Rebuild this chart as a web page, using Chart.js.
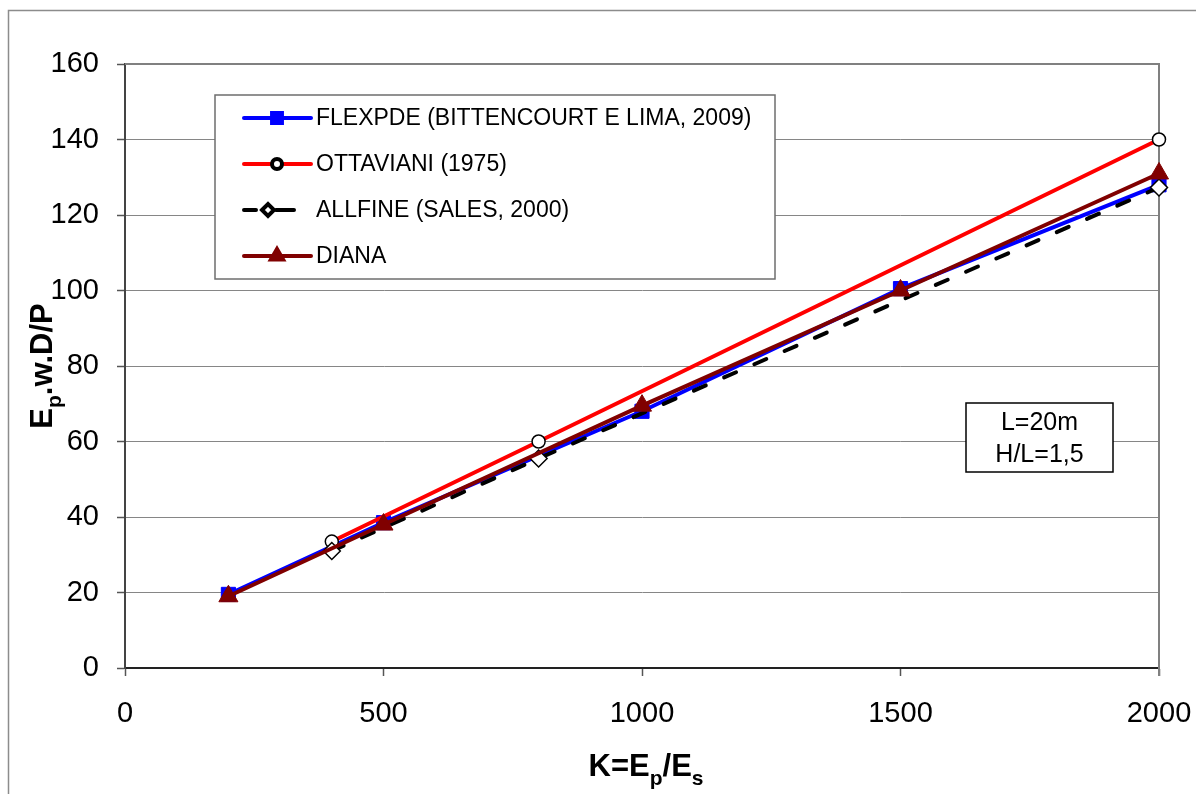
<!DOCTYPE html>
<html>
<head>
<meta charset="utf-8">
<script src="https://cdn.jsdelivr.net/npm/chart.js@4.4.0/dist/chart.umd.min.js"></script>
<style>
  html, body { margin: 0; padding: 0; background: #fff; }
  #wrap { width: 1196px; height: 794px; }
</style>
</head>
<body>
<div id="wrap"><canvas id="grafico" width="1196" height="794"></canvas></div>
<script>
// hodnoty: K = Ep/Es a Ep.w.D/P
const flexpdeK = [200, 500, 1000, 1500, 2000];
const flexpdeW = [19.5, 38.5, 68, 100.5, 128];
const ottavianiK = [400, 800, 2000];
const ottavianiW = [33.5, 60, 140];
const allfineK = [400, 800, 2000];
const allfineW = [31, 55.5, 127.3];
const dianaK = [200, 500, 1000, 1500, 2000];
const dianaW = [19, 38, 69.5, 100, 131];

const seriesNames = ['FLEXPDE (BITTENCOURT E LIMA, 2009)', 'OTTAVIANI (1975)', 'ALLFINE (SALES, 2000)', 'DIANA'];
const xTicks = [0, 500, 1000, 1500, 2000];
const yTicks = [0, 20, 40, 60, 80, 100, 120, 140, 160];
const noteLines = ['L=20m', 'H/L=1,5'];

const FONT = "'Liberation Sans', Arial, sans-serif";

function toPoints(xs, ys) {
    return xs.map((x, i) => ({ x: x, y: ys[i] }));
}

// text s dolnim indexem, casti: [text, jeIndex]
function drawSubText(ctx, parts, cx, cy, size) {
    const small = Math.round(size * 0.68);
    let total = 0;
    parts.forEach(p => {
        ctx.font = 'bold ' + (p[1] ? small : size) + 'px ' + FONT;
        total += ctx.measureText(p[0]).width;
    });
    let x = cx - total / 2;
    ctx.textAlign = 'left';
    ctx.textBaseline = 'alphabetic';
    parts.forEach(p => {
        ctx.font = 'bold ' + (p[1] ? small : size) + 'px ' + FONT;
        ctx.fillText(p[0], x, cy + (p[1] ? size * 0.28 : 0));
        x += ctx.measureText(p[0]).width;
    });
}

const extrasPlugin = {
    id: 'extras',
    beforeDatasetsDraw(chart) {
        const ctx = chart.ctx;
        const a = chart.chartArea;
        ctx.save();
        // ramecek kolem celeho grafu
        ctx.strokeStyle = '#8c8c8c';
        ctx.lineWidth = 1.5;
        ctx.strokeRect(8.5, 10.5, 1200, 800);
        // horni a prava hrana plochy grafu
        ctx.strokeStyle = '#808080';
        ctx.lineWidth = 2;
        ctx.beginPath();
        ctx.moveTo(a.left, a.top);
        ctx.lineTo(a.right, a.top);
        ctx.lineTo(a.right, a.bottom + 8);
        ctx.stroke();
        ctx.restore();
    },
    afterDatasetsDraw(chart) {
        const ctx = chart.ctx;
        const a = chart.chartArea;
        ctx.save();
        ctx.fillStyle = '#000';

        // popisky os s indexy
        drawSubText(ctx, [['K=E', false], ['p', true], ['/E', false], ['s', true]], 646, 776, 31);
        ctx.save();
        ctx.translate(52, (a.top + a.bottom) / 2);
        ctx.rotate(-Math.PI / 2);
        drawSubText(ctx, [['E', false], ['p', true], ['.w.D/P', false]], 0, 0, 31);
        ctx.restore();

        // legenda
        const lx = 215, ly = 95, lw = 560, lh = 184;
        ctx.fillStyle = '#fff';
        ctx.fillRect(lx, ly, lw, lh);
        ctx.strokeStyle = '#6e6e6e';
        ctx.lineWidth = 1.5;
        ctx.strokeRect(lx, ly, lw, lh);
        chart.data.datasets.forEach((ds, i) => {
            const y = ly + 23 + i * 46;
            ctx.save();
            ctx.strokeStyle = ds.borderColor;
            ctx.lineWidth = ds.borderWidth;
            ctx.lineCap = 'round';
            ctx.beginPath();
            if (ds.borderDash) {
                ctx.moveTo(244, y); ctx.lineTo(256, y);
                ctx.moveTo(276, y); ctx.lineTo(294, y);
            } else {
                ctx.moveTo(244, y); ctx.lineTo(311, y);
            }
            ctx.stroke();
            ctx.fillStyle = ds.pointBackgroundColor;
            ctx.strokeStyle = ds.pointBorderColor;
            Chart.helpers.drawPoint(ctx, {
                pointStyle: ds.pointStyle,
                radius: ds.legendRadius,
                rotation: 0,
                borderWidth: ds.pointBorderWidth
            }, ds.borderDash ? 268 : 277, y);
            ctx.restore();
            ctx.fillStyle = '#000';
            ctx.font = '23px ' + FONT;
            ctx.textAlign = 'left';
            ctx.textBaseline = 'middle';
            ctx.fillText(ds.label, 316, y + 1);
        });

        // poznamka L, H/L
        const nx = 966, ny = 403, nw = 147, nh = 69;
        ctx.fillStyle = '#fff';
        ctx.fillRect(nx, ny, nw, nh);
        ctx.strokeStyle = '#000';
        ctx.lineWidth = 1.5;
        ctx.strokeRect(nx, ny, nw, nh);
        ctx.fillStyle = '#000';
        ctx.font = '25px ' + FONT;
        ctx.textAlign = 'center';
        ctx.textBaseline = 'middle';
        noteLines.forEach((t, i) => {
            ctx.fillText(t, nx + nw / 2, ny + 20 + i * 32);
        });
        ctx.restore();
    }
};

const ctx = document.getElementById('grafico').getContext('2d');
new Chart(ctx, {
    type: 'line',
    data: {
        datasets: [
            {
                label: seriesNames[0],
                data: toPoints(flexpdeK, flexpdeW),
                borderColor: '#0000ff',
                borderWidth: 4,
                pointStyle: 'rect',
                pointRadius: 10,
                legendRadius: 7,
                pointBackgroundColor: '#0000ff',
                pointBorderColor: '#0000ff',
                pointBorderWidth: 1,
                clip: false,
                order: 3
            },
            {
                label: seriesNames[1],
                data: toPoints(ottavianiK, ottavianiW),
                borderColor: '#ff0000',
                borderWidth: 4,
                pointStyle: 'circle',
                pointRadius: 6.5,
                legendRadius: 5,
                pointBackgroundColor: '#ffffff',
                pointBorderColor: '#000000',
                pointBorderWidth: 1.5,
                clip: false,
                order: 2
            },
            {
                label: seriesNames[2],
                data: toPoints(allfineK, allfineW),
                borderColor: '#000000',
                borderWidth: 4,
                borderDash: [13, 20],
                borderCapStyle: 'round',
                pointStyle: 'rectRot',
                pointRadius: 8.5,
                legendRadius: 6,
                pointBackgroundColor: '#ffffff',
                pointBorderColor: '#000000',
                pointBorderWidth: 1.5,
                clip: false,
                order: 1
            },
            {
                label: seriesNames[3],
                data: toPoints(dianaK, dianaW),
                borderColor: '#800000',
                borderWidth: 4,
                pointStyle: 'triangle',
                pointRadius: 11,
                legendRadius: 7,
                pointBackgroundColor: '#800000',
                pointBorderColor: '#800000',
                pointBorderWidth: 1,
                clip: false,
                order: 0
            }
        ]
    },
    options: {
        responsive: false,
        animation: false,
        layout: { padding: { left: 0, top: 64, right: 37, bottom: 0 } },
        plugins: {
            legend: { display: false },
            tooltip: { enabled: false }
        },
        elements: { line: { tension: 0 } },
        scales: {
            x: {
                type: 'linear',
                min: 0,
                max: 2000,
                afterBuildTicks: s => { s.ticks = xTicks.map(v => ({ value: v })); },
                afterFit: s => { s.height = 126; s.paddingLeft = 0; s.paddingRight = 0; },
                grid: { drawOnChartArea: false, tickLength: 8, tickColor: '#555', tickWidth: 1.5 },
                border: { color: '#222', width: 2 },
                ticks: { color: '#000', font: { family: FONT, size: 29 }, padding: 21, maxRotation: 0,
                         callback: v => String(v) }
            },
            y: {
                min: 0,
                max: 160,
                afterBuildTicks: s => { s.ticks = yTicks.map(v => ({ value: v })); },
                afterFit: s => { s.width = 125; s.paddingTop = 0; s.paddingBottom = 0; },
                grid: { color: '#868686', lineWidth: 1, tickLength: 8, tickColor: '#555', tickWidth: 1.5 },
                border: { color: '#444', width: 2 },
                ticks: { color: '#000', font: { family: FONT, size: 29 }, padding: 18,
                         callback: v => String(v) }
            }
        }
    },
    plugins: [extrasPlugin]
});
</script>
</body>
</html>
